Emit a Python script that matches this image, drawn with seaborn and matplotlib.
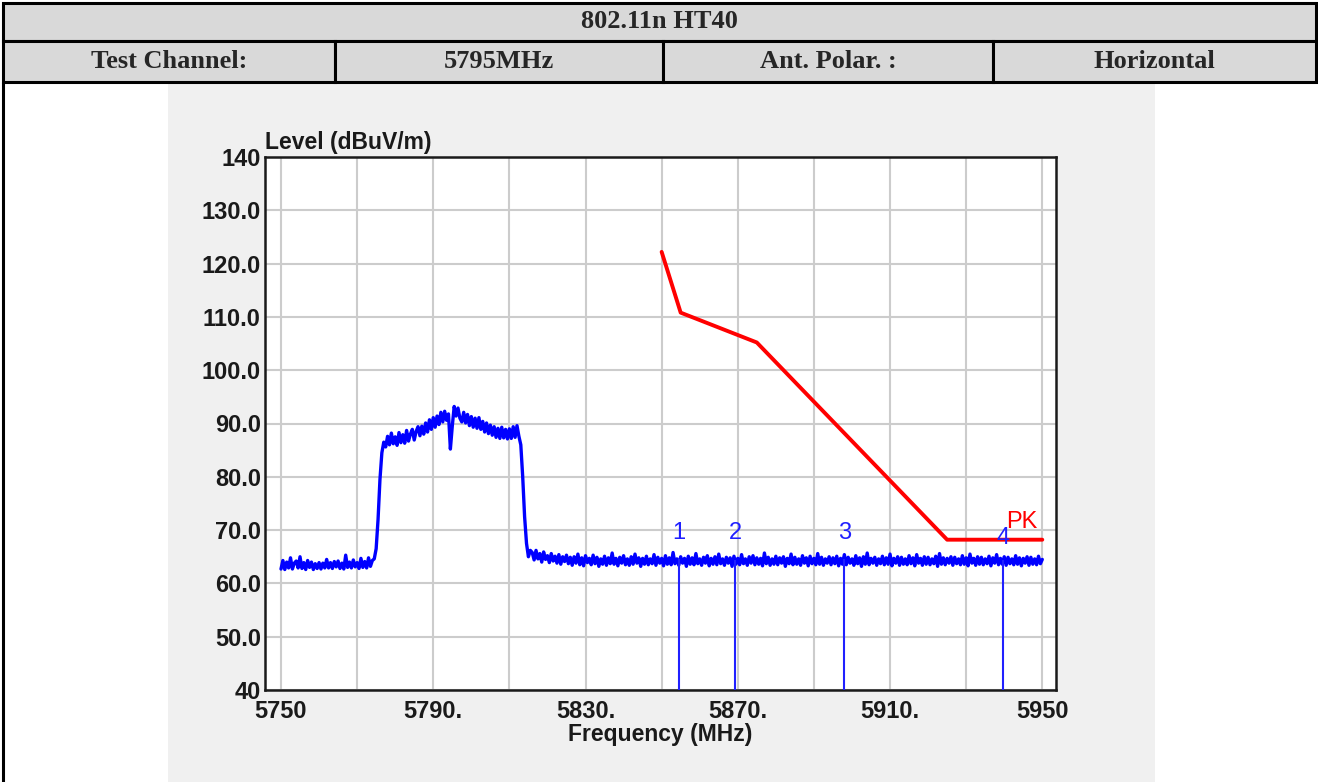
import numpy as np
import pandas as pd
import seaborn as sns
import matplotlib.pyplot as plt
from matplotlib.patches import Rectangle

# sweep span of the analyser trace
FREQ_START = 5750.0
FREQ_STOP = 5950.0

lower_floor = [62.7, 64.3, 62.6, 64.0, 62.9, 64.8, 62.7, 63.8, 64.2, 62.9,
               65.0, 62.8, 63.9, 62.6, 64.3, 63.0, 64.0, 62.6, 63.7, 62.8,
               63.9, 62.7, 63.8, 62.9, 64.5, 62.9, 63.9, 62.8, 64.1, 63.1,
               64.2, 62.8, 63.8, 62.7, 65.3, 63.0, 64.0, 62.9, 64.4, 63.1,
               63.9, 62.8, 64.7, 63.0, 64.1, 62.9, 64.8, 63.2, 64.3, 64.6]
rising_edge = [66.5, 72.0, 79.5, 84.5, 86.5]
channel_top = [85.6, 87.6, 86.0, 88.2, 86.2, 87.5, 85.9, 88.3, 86.4, 87.9,
               86.3, 88.7, 86.7, 88.0, 88.9, 86.9, 88.5, 89.4, 87.7, 89.5,
               88.0, 90.1, 88.4, 90.7, 88.9, 91.1, 89.3, 91.4, 89.8, 92.1,
               90.3, 92.3, 90.6, 91.8,
               85.2, 89.5, 93.2, 91.4, 92.9, 91.0,
               90.3, 92.1, 90.1, 91.7, 89.6, 91.3, 89.3, 91.0, 89.1, 91.1,
               88.9, 90.4, 88.4, 90.1, 88.1, 89.7, 87.8, 89.4, 87.4, 89.1,
               87.2, 89.3, 87.3, 88.9, 87.1, 89.0, 87.2, 89.4, 87.4, 89.6,
               87.6]
falling_edge = [86.0, 80.0, 72.5, 67.5, 65.0, 66.2]
upper_floor = [65.8, 64.4, 66.2, 64.6, 65.6, 64.0, 65.9, 64.5, 65.2, 63.9,
               65.6, 64.2, 65.1, 63.8, 65.4, 63.6, 65.0, 64.1, 65.3, 63.7,
               64.9, 63.4, 65.0, 63.8, 65.5, 63.5, 64.8, 63.3, 65.2, 63.9,
               64.7, 63.5, 65.3, 63.7, 64.9, 63.2, 64.6, 63.6, 65.1, 63.4,
               64.8, 63.7, 65.7, 63.6, 64.7, 63.3, 64.9, 63.8, 65.2, 63.5,
               64.6, 63.4, 65.0, 63.6, 65.5, 63.8, 64.8, 63.2, 64.7, 63.6,
               65.1, 63.5, 64.6, 63.7, 65.4, 63.4, 64.9, 63.8, 64.7, 63.3,
               65.2, 63.6, 64.8, 63.5, 65.8, 63.7, 64.6, 63.4, 65.0, 63.8,
               64.7, 63.2, 65.1, 63.6, 64.8, 63.5, 65.6, 63.7, 64.6, 63.4,
               64.9, 63.8, 65.2, 63.3, 64.7, 63.6, 65.0, 63.5, 65.5, 63.7,
               64.6, 63.4, 64.9, 63.8, 64.8, 63.2, 65.1, 63.6, 64.7, 63.5,
               65.4, 63.7, 64.6, 63.4, 65.0, 63.8, 65.2, 63.5, 64.8, 63.6,
               64.7, 63.3, 65.7, 63.7, 64.9, 63.4, 64.6, 63.6, 65.1, 63.5,
               64.8, 63.8, 65.0, 63.2, 64.7, 63.7, 65.5, 63.5, 64.9, 63.6,
               64.6, 63.4, 65.2, 63.8, 64.8, 63.3, 65.1, 63.7, 64.7, 63.5,
               65.6, 63.6, 64.9, 63.4, 64.6, 63.8, 65.0, 63.5, 64.8, 63.7,
               65.1, 63.3, 64.7, 63.6, 65.4, 63.5, 64.9, 63.8, 64.6, 63.4,
               65.2, 63.7, 64.8, 63.2, 65.0, 63.6, 65.7, 63.5, 64.7, 63.8,
               64.9, 63.4, 64.6, 63.7, 65.1, 63.5, 64.8, 63.6, 65.5, 63.3,
               64.7, 63.8, 65.0, 63.4, 64.9, 63.6, 64.6, 63.5, 65.2, 63.7,
               64.8, 63.3, 65.4, 63.8, 64.7, 63.4, 65.0, 63.6, 64.9, 63.5,
               64.6, 63.7, 65.1, 63.2, 65.6, 63.6, 64.8, 63.5, 64.7, 63.8,
               65.0, 63.4, 64.9, 63.7, 64.6, 63.5, 65.2, 63.6, 64.8, 63.3,
               65.5, 63.8, 64.7, 63.4, 65.0, 63.6, 64.9, 63.5, 64.6, 63.7,
               65.1, 63.3, 64.8, 63.8, 65.4, 63.5, 64.7, 63.6, 65.0, 63.4,
               64.9, 63.7, 64.6, 63.5, 65.2, 63.6, 64.8, 63.3, 64.7, 63.8,
               65.0, 63.4, 64.9, 63.6, 64.6, 63.5, 65.1, 63.7, 64.5]

# FCC limit line (PK)
limit_freq = [5850, 5855, 5875, 5925, 5950]
limit_level = [122.2, 110.8, 105.2, 68.2, 68.2]

# markers
marker_freq = [5854.6, 5869.4, 5898.0, 5939.6]
marker_level = [64.6, 64.4, 64.5, 64.3]
marker_label = ["1", "2", "3", "4"]
marker_label_level = [69.4, 69.4, 69.4, 68.6]

x_ticks = [5750, 5770, 5790, 5810, 5830, 5850, 5870, 5890, 5910, 5930, 5950]
x_tick_labels = ["5750", "", "5790.", "", "5830.", "", "5870.", "", "5910.", "", "5950"]
y_ticks = [40, 50, 60, 70, 80, 90, 100, 110, 120, 130, 140]
y_tick_labels = ["40", "50.0", "60.0", "70.0", "80.0", "90.0", "100.0", "110.0",
                 "120.0", "130.0", "140"]

header_title = "802.11n HT40"
header_cells = ["Test Channel:", "5795MHz", "Ant. Polar. :", "Horizontal"]

sns.set_style("white")
plt.rcParams['font.family'] = ['Liberation Sans', 'DejaVu Sans']

W, H = 1318, 782
fig = plt.figure(figsize=(W / 100, H / 100), dpi=100)
fig.patch.set_facecolor("white")

# page / table background drawn in pixel coords
bg = fig.add_axes([0, 0, 1, 1])
bg.set_xlim(0, W)
bg.set_ylim(H, 0)
bg.axis("off")

serif = ["Liberation Serif", "DejaVu Serif"]
bg.add_patch(Rectangle((168, 84), 987, 700, fc="#f0f0f0", ec="none"))
bg.add_patch(Rectangle((3, 3), 1313, 38, fc="#d9d9d9", ec="black", lw=2.2))
col_edges = [3, 335, 663, 993, 1316]
for i, txt in enumerate(header_cells):
    x0, x1 = col_edges[i], col_edges[i + 1]
    bg.add_patch(Rectangle((x0, 41), x1 - x0, 41, fc="#d9d9d9", ec="black", lw=2.2))
    bg.text((x0 + x1) / 2, 62, txt, ha="center", va="center", fontsize=19,
            fontweight="bold", family=serif)
bg.text(659, 21, header_title, ha="center", va="center", fontsize=19,
        fontweight="bold", family=serif)
bg.plot([3, 3], [82, H], color="black", lw=2.2)

# the analyser plot
ax = fig.add_axes([265 / W, 92 / H, 791 / W, 533 / H])
ax.set_facecolor("white")

level = lower_floor + rising_edge + channel_top + falling_edge + upper_floor
trace = pd.DataFrame({"freq": np.linspace(FREQ_START, FREQ_STOP, len(level)),
                      "level": level})
sns.lineplot(data=trace, x="freq", y="level", color="#0000ff", lw=2.4,
             estimator=None, ax=ax, zorder=3)

limit = pd.DataFrame({"freq": limit_freq, "level": limit_level})
sns.lineplot(data=limit, x="freq", y="level", color="#ff0000", lw=2.8,
             estimator=None, ax=ax, zorder=4)

ax.vlines(marker_freq, 40, marker_level, color="#2020ff", lw=1.5, zorder=3)
for f, lv, lab in zip(marker_freq, marker_label_level, marker_label):
    ax.text(f, lv, lab, color="#2020ff", fontsize=17, ha="center", va="center", zorder=5)
ax.text(5944.5, 71.6, "PK", color="#ff0000", fontsize=17, ha="center", va="center", zorder=5)

ax.set_xlim(5745.8, 5953.6)
ax.set_ylim(40, 140)
ax.set_xticks(x_ticks)
ax.set_xticklabels(x_tick_labels)
ax.set_yticks(y_ticks)
ax.set_yticklabels(y_tick_labels)
ax.tick_params(length=0, labelsize=17, colors="#1a1a1a")
ax.tick_params(axis="x", pad=7)
ax.tick_params(axis="y", pad=3)
for t in ax.get_xticklabels() + ax.get_yticklabels():
    t.set_fontweight("bold")
ax.grid(True, color="#cccccc", lw=1.5)
ax.set_axisbelow(True)
for s in ax.spines.values():
    s.set_color("#1a1a1a")
    s.set_linewidth(1.8)
    s.set_visible(True)

ax.set_xlabel("")
ax.set_ylabel("")
ax.text(0.0, 1.0 + 8 / 533, "Level (dBuV/m)", transform=ax.transAxes, ha="left",
        va="baseline", fontsize=16.5, fontweight="bold", color="#1a1a1a")
fig.text(660 / W, 1 - 734 / H, "Frequency (MHz)", ha="center", va="center",
         fontsize=16.5, fontweight="bold", color="#1a1a1a")

plt.savefig("out.png", dpi=100)
